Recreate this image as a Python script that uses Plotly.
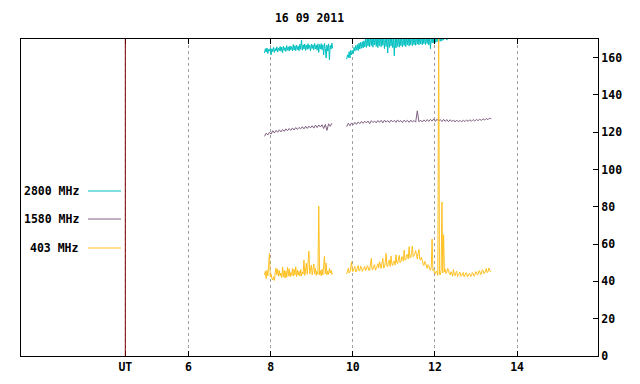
import numpy as np
import plotly.graph_objects as go

# ---- data ----
title_text = "16 09 2011"
seg1_start = 7.85
seg2_start = 9.85

labels = ["2800 MHz", "1580 MHz", "403 MHz"]
colors = ["#00c0c0", "#806080", "#ffc020"]
steps = [0.02, 0.04, 0.02]   # sampling interval (hours) of each series

f2800_seg1 = [162.5, 164.8, 163.0, 165.2, 162.2, 164.5, 163.5, 165.0, 161.5, 164.8,
              163.2, 165.5, 162.8, 164.9, 163.6, 165.8, 163.0, 165.2, 163.8, 166.0,
              163.4, 165.6, 162.6, 166.2, 163.9, 165.4, 163.3, 166.5, 164.0, 165.8,
              163.5, 166.3, 164.2, 165.9, 163.6, 167.0, 164.1, 166.4, 163.8, 166.8,
              164.3, 166.2, 163.7, 167.2, 164.5, 169.5, 164.0, 166.9, 164.6, 167.3,
              163.9, 166.8, 164.4, 167.5, 164.8, 166.6, 163.6, 167.2, 164.9, 166.9,
              164.3, 167.6, 164.7, 166.8, 164.0, 167.4, 162.8, 167.0, 164.6, 167.5,
              164.2, 166.9, 161.5, 167.6, 164.8, 159.8, 166.8, 163.5, 167.4, 158.8,
              166.5, 164.6, 167.8, 165.0]
f2800_seg2 = [159.2, 161.5, 160.0, 163.2, 159.8, 164.0, 161.5, 163.8, 162.2, 165.5,
              163.5, 166.5, 164.0, 167.0, 163.8, 167.8, 164.6, 168.2, 165.0, 168.5,
              165.2, 169.0, 165.8, 170.5, 165.5, 171.0, 166.2, 171.2, 165.8, 171.5,
              166.5, 171.0, 165.6, 171.5, 166.8, 171.2, 166.0, 171.5, 165.4, 171.0,
              166.3, 171.5, 165.8, 171.2, 166.6, 171.5, 164.8, 171.0, 166.0, 171.5,
              162.5, 171.2, 165.5, 171.5, 166.2, 171.0, 165.4, 170.8, 161.0, 171.5,
              165.2, 171.2, 166.0, 171.5, 165.6, 171.0, 166.4, 171.5, 165.8, 171.2,
              166.5, 171.5, 165.9, 171.0, 166.8, 171.5, 166.2, 171.2, 166.9, 171.5,
              166.4, 171.0, 167.0, 171.5, 166.6, 171.2, 167.2, 171.5, 166.8, 171.0,
              167.3, 171.5, 166.9, 171.2, 167.5, 171.5, 167.0, 171.0, 167.6, 171.5,
              166.8, 171.2, 164.8, 171.5, 167.8, 171.0, 168.0, 171.5, 168.2, 171.2,
              168.5, 171.5, 168.3, 172.0, 168.8, 171.5, 169.0, 172.0, 169.5, 172.0,
              170.2, 172.0, 169.4, 172.0, 170.5]

f1580_seg1 = [117.8, 119.5, 118.5, 120.0, 119.0, 120.8, 119.6, 121.0, 120.0, 121.3,
              120.2, 121.5, 120.5, 121.8, 120.8, 122.0, 121.0, 122.3, 121.2, 122.5,
              121.5, 122.6, 121.8, 123.0, 121.8, 123.2, 122.0, 123.3, 122.3, 123.5,
              122.2, 123.8, 122.5, 123.9, 122.8, 124.0, 122.0, 124.2, 121.0, 124.5,
              123.2, 124.8]
f1580_seg2 = [123.0, 124.8, 123.5, 125.0, 124.0, 125.3, 124.2, 125.5, 124.6, 125.8,
              124.8, 125.9, 125.0, 126.0, 124.5, 126.2, 125.2, 126.0, 125.0, 126.3,
              125.3, 126.4, 125.0, 126.5, 125.4, 126.3, 125.2, 126.5, 125.5, 126.4,
              125.3, 126.6, 125.5, 126.3, 125.2, 126.5, 125.6, 126.4, 125.3, 126.5,
              125.5, 126.3, 125.4, 131.5, 125.6, 126.5, 125.5, 126.6, 125.7, 126.8,
              125.8, 126.9, 126.0, 127.2, 125.8, 127.0, 126.0, 126.8, 125.7, 126.9,
              125.8, 126.8, 125.6, 126.7, 125.7, 126.6, 125.5, 126.5, 125.6, 126.4,
              125.5, 126.5, 125.7, 126.6, 125.8, 126.7, 125.9, 126.8, 126.0, 126.9,
              126.2, 127.0, 126.3, 127.2, 126.5, 127.4, 126.7, 127.6, 127.2]

f403_seg1 = [43.5, 45.5, 41.5, 46.0, 43.0, 48.0, 55.0, 42.5, 44.0, 41.5,
             40.8, 42.5, 40.5, 45.0, 47.2, 43.5, 46.5, 42.8, 45.8, 43.0,
             44.5, 42.0, 47.8, 42.5, 46.0, 41.8, 45.5, 42.2, 47.5, 43.0,
             46.8, 42.5, 44.8, 43.2, 47.0, 42.8, 46.5, 43.5, 47.8, 42.6,
             46.2, 43.4, 45.5, 42.8, 46.5, 43.0, 45.0, 44.0, 51.5, 43.2,
             47.5, 49.7, 43.8, 50.5, 56.3, 44.0, 46.0, 48.8, 43.5, 46.5,
             49.4, 44.0, 47.0, 43.2, 45.5, 43.8, 80.4, 43.5, 45.8, 43.0,
             46.5, 43.5, 47.5, 53.6, 44.0, 49.8, 43.5, 45.5, 43.8, 47.0,
             44.5, 46.0, 43.8, 44.5]
f403_seg2 = [44.0, 46.2, 47.0, 44.5, 45.0, 47.8, 50.5, 45.2, 45.5, 47.0,
             48.0, 45.0, 45.5, 47.5, 48.5, 45.6, 45.8, 48.2, 47.5, 45.4,
             46.0, 47.2, 48.0, 45.8, 46.2, 48.5, 47.8, 45.9, 46.0, 49.0,
             52.4, 46.2, 46.5, 48.2, 49.0, 46.0, 46.8, 48.0, 49.5, 47.2,
             50.6, 47.5, 47.0, 49.8, 52.4, 47.2, 47.5, 50.2, 55.0, 48.2,
             48.0, 50.8, 51.5, 48.0, 53.6, 49.5, 48.5, 50.5, 51.0, 48.8,
             54.3, 50.2, 49.5, 52.0, 54.0, 50.0, 50.5, 53.2, 53.0, 50.8,
             56.8, 51.5, 51.5, 54.2, 54.5, 52.0, 58.6, 53.0, 52.5, 55.5,
             59.0, 53.2, 54.0, 55.0, 56.5, 52.5, 52.0, 55.2, 57.2, 51.8,
             51.5, 53.0, 50.5, 49.5, 48.5, 50.8, 50.0, 47.5, 47.0, 49.0,
             48.5, 46.5, 46.0, 47.8, 62.7, 45.8, 46.5, 44.5, 44.0, 45.5,
             45.0, 43.2, 180.0, 44.0, 43.5, 46.0, 82.6, 44.5, 65.0, 45.0,
             46.5, 44.2, 45.0, 47.0, 46.5, 44.0, 43.5, 45.2, 44.5, 42.8,
             46.3, 43.8, 43.0, 44.8, 45.5, 42.6, 43.5, 44.5, 45.0, 42.8,
             43.0, 44.2, 44.8, 42.5, 43.2, 44.6, 44.5, 42.4, 42.8, 44.2,
             44.0, 42.6, 43.0, 44.8, 44.2, 42.8, 43.2, 45.2, 45.0, 43.5,
             43.8, 45.8, 45.5, 43.6, 44.0, 46.2, 46.0, 44.2, 44.5, 46.8,
             47.0, 44.8, 45.0, 47.2, 46.5, 45.2, 45.5]

x_ticks = [6, 8, 10, 12, 14]
ut_hour = 4.46
x_range = [1.92, 15.97]
y_range = [0, 170]


def join(seg1, seg2, step):
    t1 = list(seg1_start + step * np.arange(len(seg1)))
    t2 = list(seg2_start + step * np.arange(len(seg2)))
    return t1 + [None] + t2, list(seg1) + [None] + list(seg2)


series = [join(f2800_seg1, f2800_seg2, steps[0]),
          join(f1580_seg1, f1580_seg2, steps[1]),
          join(f403_seg1, f403_seg2, steps[2])]

FONT = dict(family="DejaVu Sans Mono", size=11.5, color="black", weight="bold")

fig = go.Figure()
for (xs, ys), c, name in zip(series, colors, labels):
    fig.add_trace(go.Scatter(x=xs, y=ys, mode="lines", name=name,
                             line=dict(color=c, width=1), showlegend=False,
                             connectgaps=False, hoverinfo="skip"))

# UT reference line
fig.add_shape(type="line", xref="x", yref="paper", x0=ut_hour, x1=ut_hour,
              y0=0, y1=1, line=dict(color="#800000", width=1), layer="above")

# layout geometry (page body adds an 8px offset)
OFF = 8
W, H = 640, 384
L, R, T, B = 21 - OFF, 640 - (598 - OFF), 39 - OFF, 384 - (356 - OFF)
pw, ph = W - L - R, H - T - B


def px_x(sx):
    return (sx - OFF - L) / pw


def px_y(sy):
    return (H - B - (sy - OFF)) / ph


# custom legend (text then line sample)
leg_y_px = [191, 219, 248]
for lab, c, py in zip(labels, colors, leg_y_px):
    yp = px_y(py)
    fig.add_annotation(xref="paper", yref="paper", x=px_x(81), y=yp,
                       text=lab, showarrow=False, xanchor="right",
                       yanchor="middle", font=FONT)
    fig.add_shape(type="line", xref="paper", yref="paper",
                  x0=px_x(88), x1=px_x(121), y0=yp, y1=yp,
                  line=dict(color=c, width=1))

fig.update_layout(
    width=W, height=H,
    margin=dict(l=L, r=R, t=T, b=B),
    paper_bgcolor="white", plot_bgcolor="white",
    title=dict(text=title_text, x=(309.5 - OFF) / W, xanchor="center",
               y=1 - (18 - OFF) / H, yanchor="middle", font=FONT),
    font=FONT,
    xaxis=dict(range=x_range, tickmode="array",
               tickvals=[ut_hour] + x_ticks,
               ticktext=["UT"] + [str(v) for v in x_ticks],
               ticks="inside", ticklen=5, tickcolor="black",
               showline=True, linecolor="black", linewidth=1, mirror="ticks",
               showgrid=True, gridcolor="#a0a0a0", griddash="dot", gridwidth=1,
               zeroline=False, tickfont=FONT),
    yaxis=dict(range=y_range, side="right", dtick=20, tick0=0,
               ticks="inside", ticklen=5, tickcolor="black",
               showline=True, linecolor="black", linewidth=1, mirror=True,
               showgrid=False, zeroline=False, tickfont=FONT),
)

fig.write_html("out.html")
